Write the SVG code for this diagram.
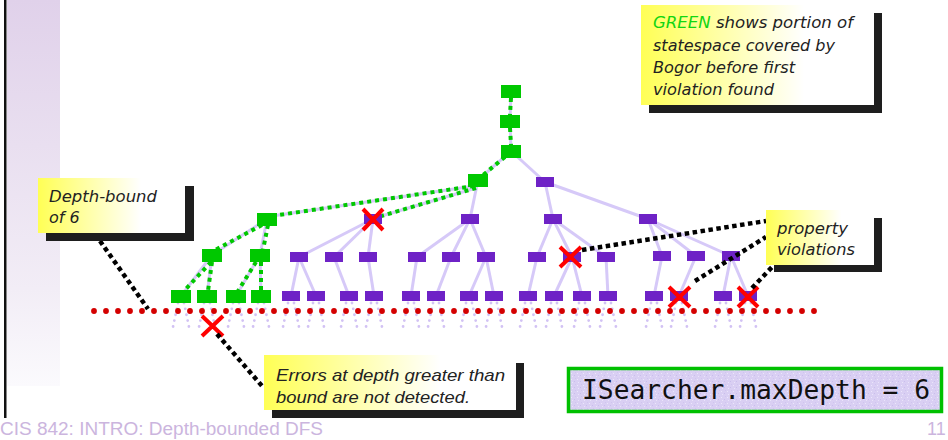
<svg xmlns="http://www.w3.org/2000/svg" width="948" height="440" viewBox="0 0 948 440">
  <defs>
    <linearGradient id="band" x1="0" y1="0" x2="0" y2="1">
      <stop offset="0" stop-color="#e0d1ea"/>
      <stop offset="0.75" stop-color="#f2edf6"/>
      <stop offset="1" stop-color="#fbfafd"/>
    </linearGradient>
    <linearGradient id="note" x1="0" y1="0" x2="1" y2="0">
      <stop offset="0" stop-color="#ffff55"/>
      <stop offset="0.7" stop-color="#ffffff"/>
    </linearGradient>
    <pattern id="grain" width="6" height="6" patternUnits="userSpaceOnUse">
      <rect width="6" height="6" fill="#d9cff3"/>
      <rect x="1" y="1" width="1" height="1" fill="#ece6fb"/>
      <rect x="4" y="3" width="1" height="1" fill="#c9bdec"/>
      <rect x="2" y="4" width="1" height="1" fill="#eae4fa"/>
      <rect x="5" y="0" width="1" height="1" fill="#cfc4ef"/>
    </pattern>
    <!-- faint unexplored branches below a depth-6 state -->
    <g id="stub">
      <path d="M-3,7 L-8,31 M3,7 L8,31"/>
    </g>
  </defs>
  <style>
    .edge { stroke: #d6c9f8; stroke-width: 3; fill: none; }
    .gdot { stroke: #00c800; stroke-width: 4; stroke-dasharray: 4 4; fill: none; }
    .bdot { stroke: #000000; stroke-width: 4.5; stroke-dasharray: 4.5 3.5; fill: none; }
    .stubs { stroke: #d2c2f4; stroke-width: 2.8; stroke-dasharray: 0 6; stroke-linecap: round; fill: none; }
    .pn { fill: #6e22c6; }
    .gn { fill: #00c800; }
    .x { stroke: #ff0000; stroke-width: 4; stroke-linecap: butt; }
    .shadow { fill: #1e1e1e; }
    .box { fill: url(#note); }
    .nt { font-family: "DejaVu Sans", "Liberation Sans", sans-serif; font-style: italic; font-size: 16px; fill: #222222; }
    .et { font-family: "Liberation Sans", Arial, sans-serif; font-style: italic; font-size: 17px; fill: #222222; }
  </style>

  <rect width="948" height="440" fill="#ffffff"/>

  <!-- slide frame: left band and rule -->
  <rect x="7" y="0" width="53" height="386" fill="url(#band)"/>
  <rect x="4" y="0" width="2.5" height="418" fill="#111111"/>

  <!-- unexplored subtrees below the depth bound -->
  <g id="stubs" class="stubs">
    <use href="#stub" x="181" y="296"/>
    <use href="#stub" x="207" y="296"/>
    <use href="#stub" x="236" y="296"/>
    <use href="#stub" x="261" y="296"/>
    <use href="#stub" x="291" y="296"/>
    <use href="#stub" x="316" y="296"/>
    <use href="#stub" x="349" y="296"/>
    <use href="#stub" x="374" y="296"/>
    <use href="#stub" x="411" y="296"/>
    <use href="#stub" x="436" y="296"/>
    <use href="#stub" x="469" y="296"/>
    <use href="#stub" x="494" y="296"/>
    <use href="#stub" x="528" y="296"/>
    <use href="#stub" x="554" y="296"/>
    <use href="#stub" x="582" y="296"/>
    <use href="#stub" x="608" y="296"/>
    <use href="#stub" x="654" y="296"/>
    <use href="#stub" x="679" y="296"/>
    <use href="#stub" x="723" y="296"/>
    <use href="#stub" x="748" y="296"/>
  </g>

  <!-- depth bound -->
  <line id="bound" x1="94" y1="311" x2="826" y2="311" stroke="#d40000" stroke-width="5.8" stroke-dasharray="0 12" stroke-linecap="round"/>

  <g id="connectors">
    <!-- state-space edges -->
    <g class="edge">
      <line x1="511" y1="91" x2="510" y2="121"/>
      <line x1="510" y1="121" x2="511" y2="151"/>
      <line x1="511" y1="151" x2="478" y2="180"/>
      <line x1="511" y1="151" x2="545" y2="182"/>
      <line x1="474" y1="186" x2="272" y2="216"/>
      <line x1="476" y1="188" x2="378" y2="217"/>
      <line x1="478" y1="180" x2="470" y2="219"/>
      <line x1="545" y1="182" x2="553" y2="219"/>
      <line x1="545" y1="182" x2="648" y2="219"/>
      <line x1="267" y1="219" x2="212" y2="255"/>
      <line x1="267" y1="219" x2="260" y2="255"/>
      <line x1="373" y1="219" x2="299" y2="257"/>
      <line x1="373" y1="219" x2="334" y2="257"/>
      <line x1="373" y1="219" x2="368" y2="257"/>
      <line x1="470" y1="219" x2="417" y2="257"/>
      <line x1="470" y1="219" x2="451" y2="257"/>
      <line x1="470" y1="219" x2="486" y2="257"/>
      <line x1="553" y1="219" x2="537" y2="257"/>
      <line x1="553" y1="219" x2="572" y2="257"/>
      <line x1="553" y1="219" x2="606" y2="257"/>
      <line x1="648" y1="219" x2="662" y2="256"/>
      <line x1="648" y1="219" x2="696" y2="256"/>
      <line x1="648" y1="219" x2="731" y2="256"/>
      <line x1="212" y1="255" x2="181" y2="296"/>
      <line x1="212" y1="255" x2="207" y2="296"/>
      <line x1="260" y1="255" x2="236" y2="296"/>
      <line x1="260" y1="255" x2="261" y2="296"/>
      <line x1="299" y1="257" x2="291" y2="296"/>
      <line x1="299" y1="257" x2="316" y2="296"/>
      <line x1="334" y1="257" x2="349" y2="296"/>
      <line x1="368" y1="257" x2="374" y2="296"/>
      <line x1="417" y1="257" x2="411" y2="296"/>
      <line x1="451" y1="257" x2="436" y2="296"/>
      <line x1="486" y1="257" x2="469" y2="296"/>
      <line x1="486" y1="257" x2="494" y2="296"/>
      <line x1="537" y1="257" x2="528" y2="296"/>
      <line x1="572" y1="257" x2="554" y2="296"/>
      <line x1="572" y1="257" x2="582" y2="296"/>
      <line x1="606" y1="257" x2="608" y2="296"/>
      <line x1="662" y1="256" x2="654" y2="296"/>
      <line x1="696" y1="256" x2="679" y2="296"/>
      <line x1="731" y1="256" x2="723" y2="296"/>
      <line x1="731" y1="256" x2="748" y2="296"/>
    </g>
    <!-- portion explored before the first violation -->
    <g class="gdot">
      <line x1="511" y1="98" x2="510" y2="115"/>
      <line x1="510" y1="128" x2="511" y2="145"/>
      <line x1="505" y1="157" x2="483" y2="175"/>
      <line x1="474" y1="186" x2="272" y2="216"/>
      <line x1="476" y1="188" x2="378" y2="217"/>
      <line x1="262" y1="225" x2="215" y2="250"/>
      <line x1="268" y1="225" x2="263" y2="250"/>
      <line x1="211" y1="262" x2="184" y2="291"/>
      <line x1="212" y1="262" x2="208" y2="291"/>
      <line x1="256" y1="262" x2="238" y2="291"/>
      <line x1="261" y1="262" x2="261" y2="291"/>
    </g>
  </g>

  <!-- states -->
  <g id="n0"><rect class="gn" x="501" y="85" width="20" height="13"/></g>
  <g id="n1"><rect class="gn" x="500" y="115" width="20" height="13"/></g>
  <g id="n2"><rect class="gn" x="501" y="145" width="20" height="13"/></g>
  <g id="n3a"><rect class="gn" x="468" y="174" width="20" height="13"/></g>
  <g id="n3b"><rect class="pn" x="536" y="177" width="18" height="10"/></g>
  <g id="n4a"><rect class="gn" x="257" y="213" width="20" height="13"/></g>
  <g id="n4b"><rect class="pn" x="364" y="214" width="18" height="10"/></g>
  <g id="n4c"><rect class="pn" x="461" y="214" width="18" height="10"/></g>
  <g id="n4d"><rect class="pn" x="544" y="214" width="18" height="10"/></g>
  <g id="n4e"><rect class="pn" x="639" y="214" width="18" height="10"/></g>
  <g id="n5a"><rect class="gn" x="202" y="249" width="20" height="13"/></g>
  <g id="n5b"><rect class="gn" x="250" y="249" width="20" height="13"/></g>
  <g id="n5c"><rect class="pn" x="290" y="252" width="18" height="10"/></g>
  <g id="n5d"><rect class="pn" x="325" y="252" width="18" height="10"/></g>
  <g id="n5e"><rect class="pn" x="359" y="252" width="18" height="10"/></g>
  <g id="n5f"><rect class="pn" x="408" y="252" width="18" height="10"/></g>
  <g id="n5g"><rect class="pn" x="442" y="252" width="18" height="10"/></g>
  <g id="n5h"><rect class="pn" x="477" y="252" width="18" height="10"/></g>
  <g id="n5i"><rect class="pn" x="528" y="252" width="18" height="10"/></g>
  <g id="n5j"><rect class="pn" x="563" y="252" width="18" height="10"/></g>
  <g id="n5k"><rect class="pn" x="597" y="252" width="18" height="10"/></g>
  <g id="n5l"><rect class="pn" x="653" y="251" width="18" height="10"/></g>
  <g id="n5m"><rect class="pn" x="687" y="251" width="18" height="10"/></g>
  <g id="n5n"><rect class="pn" x="722" y="251" width="18" height="10"/></g>
  <g id="n6a"><rect class="gn" x="171" y="290" width="20" height="13"/></g>
  <g id="n6b"><rect class="gn" x="197" y="290" width="20" height="13"/></g>
  <g id="n6c"><rect class="gn" x="226" y="290" width="20" height="13"/></g>
  <g id="n6d"><rect class="gn" x="251" y="290" width="20" height="13"/></g>
  <g id="n6e"><rect class="pn" x="282" y="291" width="18" height="10"/></g>
  <g id="n6f"><rect class="pn" x="307" y="291" width="18" height="10"/></g>
  <g id="n6g"><rect class="pn" x="340" y="291" width="18" height="10"/></g>
  <g id="n6h"><rect class="pn" x="365" y="291" width="18" height="10"/></g>
  <g id="n6i"><rect class="pn" x="402" y="291" width="18" height="10"/></g>
  <g id="n6j"><rect class="pn" x="427" y="291" width="18" height="10"/></g>
  <g id="n6k"><rect class="pn" x="460" y="291" width="18" height="10"/></g>
  <g id="n6l"><rect class="pn" x="485" y="291" width="18" height="10"/></g>
  <g id="n6m"><rect class="pn" x="519" y="291" width="18" height="10"/></g>
  <g id="n6n"><rect class="pn" x="545" y="291" width="18" height="10"/></g>
  <g id="n6o"><rect class="pn" x="573" y="291" width="18" height="10"/></g>
  <g id="n6p"><rect class="pn" x="599" y="291" width="18" height="10"/></g>
  <g id="n6q"><rect class="pn" x="645" y="291" width="18" height="10"/></g>
  <g id="n6r"><rect class="pn" x="670" y="291" width="18" height="10"/></g>
  <g id="n6s"><rect class="pn" x="714" y="291" width="18" height="10"/></g>
  <g id="n6t"><rect class="pn" x="739" y="291" width="18" height="10"/></g>

  <!-- property violations -->
  <g id="violations" class="x">
    <path d="M363,209 L383,230 M383,209 L363,230"/>
    <path d="M560,247 L581,267 M581,247 L560,267"/>
    <path d="M669,287 L690,307 M690,287 L669,307"/>
    <path d="M738,287 L758,307 M758,287 L738,307"/>
    <path d="M202,316 L223,336 M223,316 L202,336"/>
  </g>

  <!-- callout leaders -->
  <g id="leaders" class="bdot">
    <line x1="100" y1="241" x2="148" y2="309"/>
    <line x1="217" y1="334" x2="262" y2="386"/>
    <line x1="582" y1="250" x2="766" y2="221"/>
    <line x1="695" y1="281" x2="766" y2="237"/>
    <line x1="752" y1="288" x2="775" y2="264"/>
  </g>

  <!-- notes -->
  <g id="note-green">
    <rect class="shadow" x="649" y="13" width="233" height="100"/>
    <rect class="box" x="641" y="5" width="233" height="100"/>
    <text class="nt" x="653" y="28" textLength="200" lengthAdjust="spacingAndGlyphs"><tspan fill="#12d612">GREEN</tspan> shows portion of</text>
    <text class="nt" x="653" y="51" textLength="182" lengthAdjust="spacingAndGlyphs">statespace covered by</text>
    <text class="nt" x="653" y="73" textLength="142" lengthAdjust="spacingAndGlyphs">Bogor before first</text>
    <text class="nt" x="653" y="95" textLength="121" lengthAdjust="spacingAndGlyphs">violation found</text>
  </g>
  <g id="note-bound">
    <rect class="shadow" x="46" y="186" width="148" height="55"/>
    <rect class="box" x="38" y="178" width="147" height="55"/>
    <text class="nt" x="49" y="202" textLength="108" lengthAdjust="spacingAndGlyphs">Depth-bound</text>
    <text class="nt" x="49" y="223">of 6</text>
  </g>
  <g id="note-violations">
    <rect class="shadow" x="774" y="218" width="108" height="54"/>
    <rect class="box" x="766" y="210" width="108" height="55"/>
    <text class="nt" x="777" y="234" textLength="71" lengthAdjust="spacingAndGlyphs">property</text>
    <text class="nt" x="777" y="255" textLength="78" lengthAdjust="spacingAndGlyphs">violations</text>
  </g>
  <g id="note-errors">
    <rect class="shadow" x="272" y="363" width="252" height="55"/>
    <rect class="box" x="264" y="355" width="252" height="55"/>
    <text class="et" x="276" y="381" textLength="229" lengthAdjust="spacingAndGlyphs">Errors at depth greater than</text>
    <text class="et" x="276" y="403" textLength="194" lengthAdjust="spacingAndGlyphs">bound are not detected.</text>
  </g>

  <!-- search option -->
  <g id="setting">
    <rect x="568.5" y="368.5" width="373" height="43" fill="url(#grain)" stroke="#00c000" stroke-width="3.5"/>
    <text x="582" y="399" font-family="DejaVu Sans Mono, Liberation Mono, monospace" font-size="26" fill="#111111" textLength="348" lengthAdjust="spacingAndGlyphs">ISearcher.maxDepth = 6</text>
  </g>

  <!-- footer -->
  <text x="0" y="435" font-family="Liberation Sans, Arial, sans-serif" font-size="18" fill="#cbb5de" textLength="323" lengthAdjust="spacingAndGlyphs">CIS 842: INTRO: Depth-bounded DFS</text>
  <text x="927" y="435" font-family="Liberation Sans, Arial, sans-serif" font-size="18" fill="#cbb5de">11</text>
</svg>
